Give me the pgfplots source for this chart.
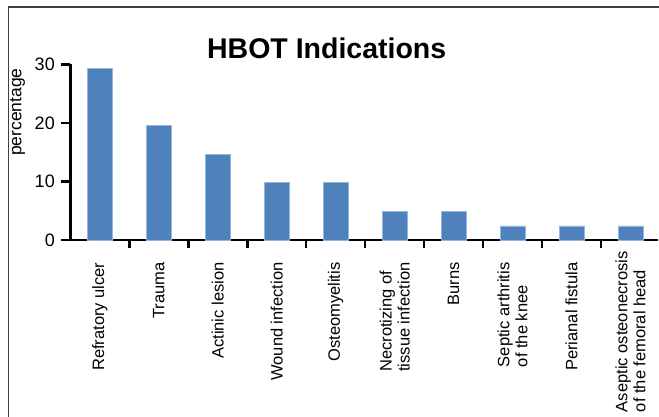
\documentclass[border=0pt]{standalone}
\usepackage{pgfplots}
\pgfplotsset{compat=1.18}
\usepackage{fontspec}
\setmainfont{Liberation Sans}
\definecolor{barblue}{RGB}{79,129,189}
\definecolor{baredge}{RGB}{150,182,222}
\begin{document}
\begin{tikzpicture}[x=1pt,y=1pt]
\useasboundingbox (0,0) rectangle (659,417);
\draw[black!75, line width=1.4pt] (8.7,0) -- (8.7,409.8) -- (659,409.8);
\node[anchor=base, font=\fontsize{28.5}{32}\selectfont\bfseries] at (326.7,358.7) {HBOT Indications};
\begin{axis}[
  at={(70.3pt,177pt)}, anchor=south west,
  scale only axis, width=587.7pt, height=175.7pt,
  xmin=-0.5, xmax=9.466, ymin=0, ymax=30,
  axis x line*=bottom, axis y line*=left,
  axis line style={line width=2.6pt, -},
  ytick={0,10,20,30},
  tick align=outside,
  major tick length=9pt, minor tick length=8pt,
  tick style={line width=2.6pt, black},
  xtick={0,1,2,3,4,5,6,7,8,9},
  every major x tick/.append style={draw=none},
  minor xtick={0.5,1.5,2.5,3.5,4.5,5.5,6.5,7.5,8.5},
  xticklabels={Refratory ulcer, Trauma, Actinic lesion, Wound infection, Osteomyelitis, {Necrotizing of\\tissue infection}, Burns, {Septic arthritis\\of the knee}, Perianal fistula, {Aseptic osteonecrosis\hspace*{-11pt}\\of the femoral head}},
  xticklabel style={rotate=90, anchor=east, align=left, font=\fontsize{16.5}{18}\selectfont},
  xticklabel shift=10pt,
  yticklabel style={font=\fontsize{18}{21}\selectfont, xshift=-3pt},
  /pgf/number format/assume math mode=true,
  ylabel={percentage},
  ylabel style={font=\fontsize{17.5}{20}\selectfont, at={(axis description cs:-0.0898,0.728)}, anchor=center, rotate=0},
  ybar, bar width=0.42, bar shift=0pt,
  clip=false,
]
\addplot[fill=barblue, draw=baredge, line width=0.8pt] coordinates {
(0,29.3) (1,19.5) (2,14.6) (3,9.8) (4,9.8) (5,4.9) (6,4.9) (7,2.4) (8,2.4) (9,2.4)
};
\end{axis}
\end{tikzpicture}
\end{document}
